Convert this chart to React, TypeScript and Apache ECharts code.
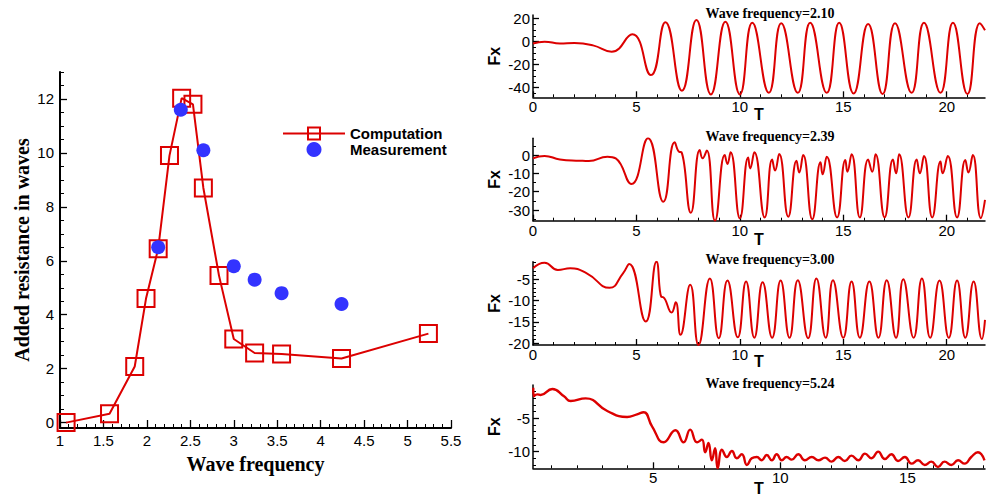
import React, { useEffect, useRef } from "react";
import * as echarts from "echarts";

// ---------- Left chart data ----------
const freqComputed = [1.07, 1.57, 1.86, 1.99, 2.13, 2.26, 2.4, 2.53, 2.65, 2.83, 3.0, 3.24, 3.55, 4.24, 5.24];
const resistComputed = [0, 0.33, 2.08, 4.6, 6.45, 9.9, 12.03, 11.8, 8.7, 5.45, 3.1, 2.58, 2.54, 2.38, 3.3];
const freqMeasured = [2.13, 2.39, 2.65, 3.0, 3.24, 3.55, 4.24];
const resistMeasured = [6.5, 11.6, 10.1, 5.8, 5.3, 4.8, 4.4];

const freqTickLabels = [1, 1.5, 2, 2.5, 3, 3.5, 4, 4.5, 5, 5.5];
const resistTickLabels = [0, 2, 4, 6, 8, 10, 12];

// ---------- Right panels data (time histories) ----------
const wf210T = [0, 0.56, 1.3, 2.0, 2.9, 3.8, 4.8, 5.7, 6.4, 7.2, 7.9, 8.6, 9.3, 10.0, 10.6, 11.4, 12.0, 12.8, 13.4, 14.2, 14.8, 15.5, 16.2, 16.9, 17.5, 18.3, 18.9, 19.7, 20.3, 21.0, 21.6, 21.85];
const wf210Fx = [-1.5, 0, -1.5, -1.2, -3.2, -8.7, 6.4, -29, 16.8, -42.6, 18.9, -45.8, 17.4, -45.8, 16.5, -44.4, 16, -44.4, 16.5, -44.4, 16.5, -45, 15.4, -45.5, 16, -44.4, 16.5, -44.4, 16.5, -45.5, 16, 10];

const wf239T = [0, 0.56, 1.3, 2.26, 2.7, 3.6, 4.0, 4.76, 5.56, 6.3, 6.85, 7.06, 7.18, 7.63, 8.06, 8.2, 8.4, 8.8, 9.27, 9.4, 9.55, 10.0, 10.4, 10.5, 10.7, 11.2, 11.56, 11.7, 11.9, 12.34, 12.74, 12.87, 13.06, 13.5, 13.9, 14.0, 14.2, 14.7, 15.1, 15.2, 15.4, 15.8, 16.2, 16.4, 16.56, 17.0, 17.4, 17.55, 17.7, 18.15, 18.55, 18.7, 18.9, 19.3, 19.7, 19.8, 20.05, 20.5, 20.9, 21.05, 21.26, 21.65, 21.85];
const wf239Fx = [-1.8, -0.5, -2.4, -3.1, -3.3, -0.9, -1.8, -15.8, 9.1, -25.5, 6.9, 1.8, 1.5, -31.5, 2.7, -1.8, 2.4, -35.8, 0, -4.9, 1.5, -34.5, -1.3, -7.3, 1.5, -34, -2.4, -8.5, 0.5, -33.6, -3.1, -9.5, 0, -35, -4, -10.5, -0.9, -34, -2.7, -9.1, 0.4, -34, -2.4, -9.1, 0.4, -34, -2.4, -10, 0.4, -34, -2.4, -10, -0.5, -34, -3.6, -10, -0.5, -34, -2.7, -9.5, 0, -34.4, -24.5];

const wf300T = [0, 0.56, 1.2, 1.8, 2.6, 3.7, 4.35, 4.65, 5.45, 5.97, 6.2, 6.3, 6.7, 6.9, 7.13, 7.6, 8.0, 8.55, 8.98, 9.4, 9.9, 10.3, 10.7, 11.1, 11.56, 11.97, 12.4, 12.8, 13.3, 13.7, 14.15, 14.5, 15.0, 15.4, 15.8, 16.26, 16.7, 17.1, 17.55, 17.9, 18.4, 18.8, 19.2, 19.65, 20.1, 20.5, 20.9, 21.3, 21.7, 21.85];
const wf300Fx = [-2.4, -1.1, -2.8, -2.4, -3.6, -7, -3.6, -1.4, -14.9, -0.9, -9.1, -9.2, -12.8, -10.4, -18, -6.3, -20.4, -4.8, -18.8, -5.3, -18.6, -5.5, -18.7, -5.7, -18.7, -5.3, -18.7, -5.2, -18.8, -4.8, -18.7, -5.2, -18.7, -5.5, -18.7, -5.5, -18.7, -5.2, -18.7, -5, -18.7, -4.8, -18.7, -5.3, -18.7, -5.3, -18.7, -5.5, -19, -14.5];

const wf524T = [0.29, 0.31, 0.45, 0.58, 1.04, 1.5, 1.76, 2.35, 3.2, 3.98, 4.37, 4.63, 4.96, 5.42, 5.88, 6.2, 6.46, 6.73, 6.92, 7.05, 7.18, 7.31, 7.44, 7.54, 7.71, 7.9, 8.1, 8.29, 8.49, 8.69, 8.88, 9.08, 9.27, 9.47, 9.67, 9.86, 10.06, 10.25, 10.45, 10.71, 10.97, 11.24, 11.5, 11.76, 12.02, 12.28, 12.54, 12.8, 13.07, 13.33, 13.59, 13.85, 14.11, 14.37, 14.63, 14.9, 15.16, 15.42, 15.68, 15.94, 16.2, 16.46, 16.73, 16.99, 17.25, 17.51, 17.77, 18.03];
const wf524Fx = [-0.4, -1.7, -1.4, -1.5, -0.6, -1.7, -2.4, -2.0, -3.9, -4.8, -4.4, -4.1, -6.2, -8.6, -6.8, -8.6, -6.7, -8.6, -8.2, -10.1, -8.7, -11.3, -9.5, -12.5, -9.7, -10.8, -9.9, -11.0, -10.4, -12.0, -11.0, -10.8, -11.3, -10.5, -11.3, -10.4, -11.3, -10.8, -11.2, -10.4, -11.3, -10.8, -11.3, -10.9, -11.5, -10.8, -11.4, -10.6, -11.3, -10.3, -11.0, -10.0, -11.1, -10.4, -11.4, -10.8, -11.8, -11.3, -12.0, -11.5, -12.3, -11.5, -12.0, -11.3, -11.8, -10.8, -10.1, -11.3];

const tTickLabels = [0, 5, 10, 15, 20];
const tTickLabels524 = [5, 10, 15];
const fx210TickLabels = [-40, -20, 0, 20];
const fx239TickLabels = [-30, -20, -10, 0];
const fx300TickLabels = [-20, -15, -10, -5];
const fx524TickLabels = [-10, -5];

const panelTitles = ["Wave frequency=2.10", "Wave frequency=2.39", "Wave frequency=3.00", "Wave frequency=5.24"];

// ---------- styling ----------
const RED = "#dc0000";
const BLUE = "#3333ff";
const SANS = "'Liberation Sans', Arial, Helvetica, sans-serif";
const SERIF = "'Liberation Serif', 'Times New Roman', serif";

const zip = (a: number[], b: number[]) => a.map((v, i) => [v, b[i]]);
const steps = (a: number, b: number, s: number) => {
  const out: number[] = [];
  for (let k = 0; a + k * s <= b + 1e-9; k++) out.push(+(a + k * s).toFixed(4));
  return out;
};

type Panel = {
  title: string; T: number[]; F: number[];
  xMin: number; xMax: number; xLabels: number[]; xMinor: number[];
  yMin: number; yMax: number; yLabels: number[]; yMinor: number[];
  top: number; height: number; tGap: number; lw: number;
};

const panels: Panel[] = [
  { title: panelTitles[0], T: wf210T, F: wf210Fx, xMin: 0, xMax: 21.85, xLabels: tTickLabels, xMinor: steps(1, 21, 1),
    yMin: -48.3, yMax: 23.2, yLabels: fx210TickLabels, yMinor: steps(-45, 20, 5), top: 15, height: 82.3, tGap: 9, lw: 2 },
  { title: panelTitles[1], T: wf239T, F: wf239Fx, xMin: 0, xMax: 21.85, xLabels: tTickLabels, xMinor: steps(1, 21, 1),
    yMin: -35.8, yMax: 9.1, yLabels: fx239TickLabels, yMinor: steps(-35, 5, 5), top: 138.3, height: 82.4, tGap: 11, lw: 2 },
  { title: panelTitles[2], T: wf300T, F: wf300Fx, xMin: 0, xMax: 21.85, xLabels: tTickLabels, xMinor: steps(1, 21, 1),
    yMin: -20.4, yMax: -0.87, yLabels: fx300TickLabels, yMinor: steps(-20, -1, 1), top: 261.7, height: 83.3, tGap: 8, lw: 2 },
  { title: panelTitles[3], T: wf524T, F: wf524Fx, xMin: 0.28, xMax: 18.05, xLabels: tTickLabels524, xMinor: steps(1, 18, 1),
    yMin: -12.5, yMax: 0, yLabels: fx524TickLabels, yMinor: steps(-12, -1, 1), top: 385, height: 83.3, tGap: 12, lw: 2.4 },
];

const axisLine = (w: number) => ({ show: true, onZero: false, lineStyle: { color: "#000", width: w } });

function mainAxis(grid: number, min: number, max: number, labels: number[], tickLen: number, lineW: number, fontSize: number, margin: number, position: string, name: any) {
  return {
    type: "value", gridIndex: grid, min, max, position,
    axisLine: axisLine(lineW),
    axisTick: { show: true, inside: true, length: tickLen, customValues: labels, lineStyle: { color: "#000", width: 1.3 } },
    axisLabel: { show: true, customValues: labels, color: "#000", fontSize, fontFamily: SANS, margin },
    splitLine: { show: false },
    nameMoveOverlap: false,
    ...name,
  };
}
function minorAxis(grid: number, min: number, max: number, ticks: number[], tickLen: number, position: string) {
  return {
    type: "value", gridIndex: grid, min, max, position,
    axisLine: { show: false, onZero: false },
    axisTick: { show: true, inside: true, length: tickLen, customValues: ticks, lineStyle: { color: "#000", width: 1 } },
    axisLabel: { show: false },
    splitLine: { show: false },
  };
}

export default function App() {
  const ref = useRef<HTMLDivElement>(null);
  useEffect(() => {
    if (!ref.current) return;
    const chart = echarts.init(ref.current, undefined, { renderer: "svg" });

    const grids: any[] = [{ left: 60, top: 72, width: 391, height: 356 }];
    const xAxes: any[] = [
      mainAxis(0, 1, 5.5, freqTickLabels, 8, 2, 15, 5, "bottom", {
        name: "Wave frequency", nameLocation: "middle", nameGap: 26,
        nameTextStyle: { fontFamily: SERIF, fontWeight: "bold", fontSize: 20, color: "#000" },
      }),
      minorAxis(0, 1, 5.5, steps(1.1, 5.4, 0.1), 4, "bottom"),
    ];
    const yAxes: any[] = [
      mainAxis(0, -0.2, 13, resistTickLabels, 7, 2, 15, 6, "left", {
        name: "Added resistance in waves", nameLocation: "middle", nameGap: 28,
        nameTextStyle: { fontFamily: SERIF, fontWeight: "bold", fontSize: 20, color: "#000" },
      }),
      minorAxis(0, -0.2, 13, steps(0, 13, 0.5), 4, "left"),
    ];
    const series: any[] = [
      {
        type: "line", name: "Computation", xAxisIndex: 0, yAxisIndex: 0,
        data: zip(freqComputed, resistComputed),
        symbol: "rect", symbolSize: 17, showSymbol: true,
        itemStyle: { color: "rgba(0,0,0,0)", borderColor: RED, borderWidth: 2 },
        lineStyle: { color: RED, width: 2 }, z: 3,
      },
      {
        type: "scatter", name: "Measurement", xAxisIndex: 0, yAxisIndex: 0,
        data: zip(freqMeasured, resistMeasured),
        symbol: "circle", symbolSize: 14, itemStyle: { color: BLUE, opacity: 1 }, z: 4,
      },
    ];
    const graphics: any[] = [];

    panels.forEach((p, i) => {
      const g = i + 1;
      grids.push({ left: 533, width: 452, top: p.top, height: p.height });
      xAxes.push(
        mainAxis(g, p.xMin, p.xMax, p.xLabels, 6, 1.5, 15, 2, "bottom", {
          name: "T", nameLocation: "middle", nameGap: p.tGap,
          nameTextStyle: { fontFamily: SANS, fontWeight: "bold", fontSize: 16, color: "#000" },
        }),
        minorAxis(g, p.xMin, p.xMax, p.xMinor, 3, "bottom")
      );
      yAxes.push(
        mainAxis(g, p.yMin, p.yMax, p.yLabels, 6, 1.5, 15, 3, "left", {
          name: "Fx", nameLocation: "middle", nameGap: 31,
          nameTextStyle: { fontFamily: SANS, fontWeight: "bold", fontSize: 16, color: "#000" },
        }),
        minorAxis(g, p.yMin, p.yMax, p.yMinor, 3, "left")
      );
      series.push({
        type: "line", name: p.title, xAxisIndex: 2 * g, yAxisIndex: 2 * g,
        data: zip(p.T, p.F), showSymbol: false, symbol: "none", smooth: 0.5, clip: true,
        lineStyle: { color: RED, width: p.lw },
      });
      graphics.push({
        type: "text", x: 770, y: p.top - 2,
        style: { text: p.title, font: `bold 14px ${SERIF}`, fill: "#000", align: "center", verticalAlign: "middle" },
      });
    });

    chart.setOption({
      animation: false,
      backgroundColor: "#fff",
      grid: grids,
      xAxis: xAxes,
      yAxis: yAxes,
      series,
      graphic: graphics,
      legend: {
        data: ["Computation", "Measurement"],
        orient: "vertical", left: 282, top: 126, padding: 0,
        itemWidth: 62, itemHeight: 15, itemGap: 1,
        textStyle: { fontFamily: SANS, fontWeight: "bold", fontSize: 15, color: "#000" },
      },
    });
    return () => chart.dispose();
  }, []);
  return <div ref={ref} style={{ position: "fixed", left: 0, top: 0, width: 990, height: 498 }} />;
}
